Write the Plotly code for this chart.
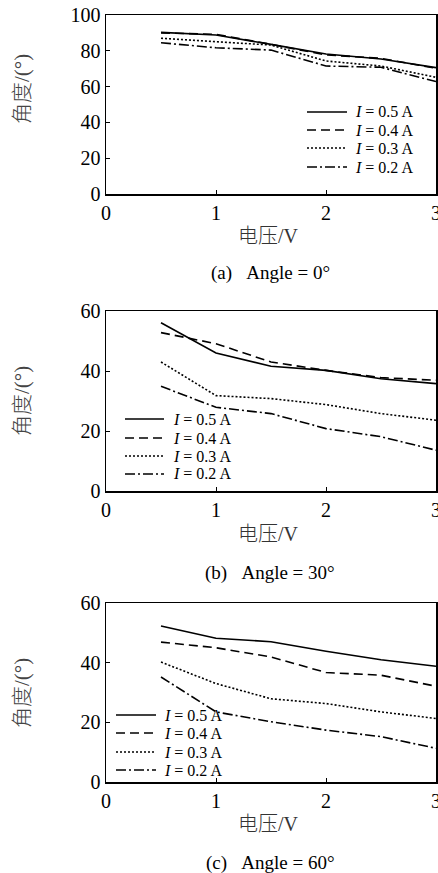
import plotly.graph_objects as go

# ---------------- data ----------------
voltage = [0.5, 1.0, 1.5, 2.0, 2.5, 3.0]
current_names = ["<i>I</i> = 0.5 A", "<i>I</i> = 0.4 A", "<i>I</i> = 0.3 A", "<i>I</i> = 0.2 A"]

# (a) Angle = 0°
a_05 = [90.3, 88.8, 83.6, 78.2, 75.4, 70.6]
a_04 = [90.0, 89.2, 83.6, 77.7, 75.8, 70.2]
a_03 = [87.0, 85.1, 83.2, 74.3, 71.5, 65.2]
a_02 = [84.5, 81.7, 80.4, 71.5, 70.8, 62.8]

# (b) Angle = 30°
b_05 = [56.1, 46.0, 41.6, 40.2, 37.4, 35.8]
b_04 = [52.8, 49.1, 43.0, 40.2, 37.8, 36.9]
b_03 = [43.0, 31.8, 30.8, 28.8, 25.8, 23.6]
b_02 = [34.9, 27.9, 25.8, 20.8, 18.1, 13.6]

# (c) Angle = 60°
c_05 = [52.3, 48.2, 47.0, 43.8, 41.0, 38.8]
c_04 = [46.9, 45.0, 41.9, 36.7, 35.8, 32.1]
c_03 = [40.2, 33.0, 27.9, 26.3, 23.5, 21.3]
c_02 = [35.2, 23.5, 20.2, 17.4, 15.2, 11.3]

x_ticks = [0, 1, 2, 3]
y_ticks_a = [0, 20, 40, 60, 80, 100]
y_ticks_bc = [0, 20, 40, 60]

captions = ["(a)\u00a0\u00a0\u00a0Angle = 0°", "(b)\u00a0\u00a0\u00a0Angle = 30°", "(c)\u00a0\u00a0\u00a0Angle = 60°"]
x_title = "电压/V"
y_title = "角度/(°)"

# ---------------- styles ----------------
W, H = 438, 873
dashes = ["solid", "9px,5px", "2px,2px", "10px,3px,2px,3px"]
SERIF = "Liberation Serif, Times New Roman, serif"
MIXED = "Liberation Serif, Noto Sans CJK SC, serif"

def py(p):
    return 1 - p / H

def px(p):
    return p / W

panels = [
    dict(series=[a_05, a_04, a_03, a_02], yrange=[0, 100], yticks=y_ticks_a,
         top=15, bottom=194, leg_x=(307, 347, 353), leg_y=[112, 130, 148, 167],
         ytitle_c=89, xtitle_y=236, cap_y=273),
    dict(series=[b_05, b_04, b_03, b_02], yrange=[0, 60], yticks=y_ticks_bc,
         top=311, bottom=491, leg_x=(125, 164, 171), leg_y=[419, 438, 456, 474],
         ytitle_c=401, xtitle_y=534, cap_y=573),
    dict(series=[c_05, c_04, c_03, c_02], yrange=[0, 60], yticks=y_ticks_bc,
         top=603, bottom=782, leg_x=(116, 156, 162), leg_y=[715, 733, 752, 770],
         ytitle_c=693, xtitle_y=824, cap_y=863),
]

fig = go.Figure()
layout = dict(
    template="none",
    width=W, height=H,
    margin=dict(l=0, r=0, t=0, b=0, autoexpand=False),
    paper_bgcolor="white", plot_bgcolor="white",
    showlegend=False,
    annotations=[], shapes=[],
)

for i, p in enumerate(panels):
    k = "" if i == 0 else str(i + 1)
    for j, ys in enumerate(p["series"]):
        fig.add_trace(go.Scatter(
            x=voltage, y=ys, mode="lines", name=current_names[j],
            line=dict(color="black", width=1.6, dash=dashes[j]),
            xaxis="x" + k, yaxis="y" + k, hoverinfo="skip",
        ))
    axis_common = dict(
        showline=True, linecolor="black", linewidth=1.5, mirror=True,
        ticks="inside", ticklen=4, tickwidth=1, tickcolor="black",
        showgrid=False, zeroline=False, automargin=False,
        ticklabeloverflow="allow",
        tickfont=dict(family=SERIF, size=20, color="black"),
    )
    layout["xaxis" + k] = dict(axis_common, range=[0, 3], tickvals=x_ticks,
                               domain=[px(106), px(436)], anchor="y" + k)
    layout["yaxis" + k] = dict(axis_common, range=p["yrange"], tickvals=p["yticks"],
                               domain=[py(p["bottom"]), py(p["top"])], anchor="x" + k)
    # legend (drawn manually)
    x0, x1, xt = p["leg_x"]
    for j, yy in enumerate(p["leg_y"]):
        layout["shapes"].append(dict(
            type="line", xref="paper", yref="paper",
            x0=px(x0), x1=px(x1), y0=py(yy), y1=py(yy),
            line=dict(color="black", width=1.6, dash=dashes[j]),
        ))
        layout["annotations"].append(dict(
            text=current_names[j], x=px(xt), y=py(yy), xref="paper", yref="paper",
            showarrow=False, xanchor="left", yanchor="middle",
            font=dict(family=SERIF, size=16, color="black"),
        ))
    layout["annotations"] += [
        dict(text=y_title, x=px(22), y=py(p["ytitle_c"]), xref="paper", yref="paper",
             showarrow=False, textangle=-90, xanchor="center", yanchor="middle",
             font=dict(family=MIXED, size=21, color="#444", weight=300)),
        dict(text=x_title, x=px(268), y=py(p["xtitle_y"]), xref="paper", yref="paper",
             showarrow=False, xanchor="center", yanchor="middle",
             font=dict(family=MIXED, size=20, color="#333", weight=300)),
        dict(text=captions[i], x=px(270), y=py(p["cap_y"]), xref="paper", yref="paper",
             showarrow=False, xanchor="center", yanchor="middle",
             font=dict(family=SERIF, size=19, color="black")),
    ]

fig.update_layout(**layout)
fig.write_html("out.html",
               config={"displayModeBar": False, "staticPlot": True},
               post_script="document.body.style.margin='0';document.body.style.overflow='hidden';")
